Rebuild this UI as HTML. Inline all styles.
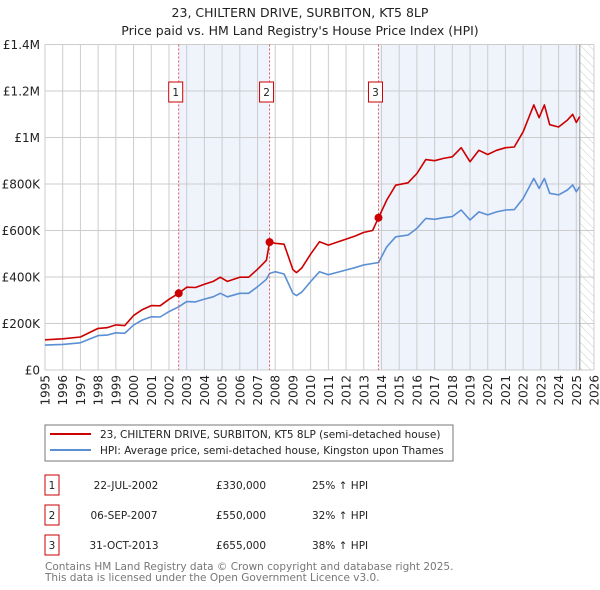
<!DOCTYPE html>
<html><head><meta charset="utf-8"><style>
body{margin:0;background:#fff;}
svg{display:block;font-family:"DejaVu Sans","Liberation Sans",sans-serif;}
</style></head><body>
<svg id="chart" width="600" height="590" viewBox="0 0 600 590">
<text x="300" y="17" text-anchor="middle" font-size="12.5" fill="#222">23, CHILTERN DRIVE, SURBITON, KT5 8LP</text>
<text x="300" y="35" text-anchor="middle" font-size="12.5" fill="#222">Price paid vs. HM Land Registry's House Price Index (HPI)</text>
<defs><pattern id="hatch" width="6" height="6" patternUnits="userSpaceOnUse" patternTransform="rotate(-45)"><line x1="0" y1="0" x2="0" y2="6" stroke="#ccc" stroke-width="1"/></pattern></defs>
<g id="bg"></g><g id="grid"></g><g id="series"></g><g id="marks"></g><g id="axes"></g>

<g>
<rect x="45" y="425" width="408" height="36" fill="#fff" stroke="#777"/>
<line x1="50" y1="434" x2="91" y2="434" stroke="#cc0000" stroke-width="2"/>
<text x="100" y="438" font-size="10.5" fill="#222">23, CHILTERN DRIVE, SURBITON, KT5 8LP (semi-detached house)</text>
<line x1="50" y1="450" x2="91" y2="450" stroke="#5b8fd4" stroke-width="2"/>
<text x="100" y="454" font-size="10.5" fill="#222">HPI: Average price, semi-detached house, Kingston upon Thames</text>
</g>
<g font-size="10.5" fill="#222">
<rect x="45" y="475" width="14" height="20" fill="#fff" stroke="#cc0000"/><text x="52" y="489" text-anchor="middle">1</text>
<text x="126" y="489" text-anchor="middle">22-JUL-2002</text><text x="241" y="489" text-anchor="middle">£330,000</text><text x="312" y="489">25% ↑ HPI</text>
<rect x="45" y="505" width="14" height="20" fill="#fff" stroke="#cc0000"/><text x="52" y="519" text-anchor="middle">2</text>
<text x="124" y="519" text-anchor="middle">06-SEP-2007</text><text x="241" y="519" text-anchor="middle">£550,000</text><text x="312" y="519">32% ↑ HPI</text>
<rect x="45" y="535" width="14" height="20" fill="#fff" stroke="#cc0000"/><text x="52" y="549" text-anchor="middle">3</text>
<text x="124" y="549" text-anchor="middle">31-OCT-2013</text><text x="241" y="549" text-anchor="middle">£655,000</text><text x="312" y="549">38% ↑ HPI</text>
</g>
<text x="45" y="570" font-size="10.5" fill="#777">Contains HM Land Registry data © Crown copyright and database right 2025.</text>
<text x="45" y="581" font-size="10.5" fill="#777">This data is licensed under the Open Government Licence v3.0.</text>
</svg>
<script>
const years=[1995,1996,1997,1998,1998.5,1999,1999.5,2000,2000.5,2001,2001.5,2002,2002.55,2003,2003.5,2004,2004.5,2004.9,2005.3,2006,2006.5,2007,2007.5,2007.68,2008,2008.5,2009,2009.2,2009.5,2010,2010.5,2011,2011.5,2012,2012.5,2013,2013.5,2013.83,2014.3,2014.8,2015.5,2016,2016.5,2017,2017.5,2018,2018.5,2019,2019.5,2020,2020.5,2021,2021.5,2022,2022.6,2022.9,2023.2,2023.5,2024,2024.5,2024.8,2025,2025.2];
const hpiValues=[107,110,117,148,150,160,158,193,215,229,228,251,272,294,293,305,315,330,315,330,330,358,390,415,423,413,330,320,335,380,423,410,420,430,440,452,458,462,530,573,580,609,652,648,655,660,688,645,680,667,680,688,690,738,824,781,824,760,753,774,796,767,789];
const priceValues=[130,134,142,179,182,194,191,234,260,277,276,304,330,356,355,369,381,399,381,399,399,433,472,550,545,541,432,419,439,498,552,537,550,563,576,592,600,655,731,795,805,845,905,900,910,917,956,896,945,927,945,956,959,1025,1140,1085,1140,1055,1045,1075,1100,1065,1090];
const saleYears=[2002.55,2007.68,2013.83];
const salePrices=[330,550,655];
const saleLabels=['1','2','3'];
const yTicks=[0,200,400,600,800,1000,1200,1400];
const yTickLabels=['£0','£200K','£400K','£600K','£800K','£1M','£1.2M','£1.4M'];
const xTicks=[1995,1996,1997,1998,1999,2000,2001,2002,2003,2004,2005,2006,2007,2008,2009,2010,2011,2012,2013,2014,2015,2016,2017,2018,2019,2020,2021,2022,2023,2024,2025,2026];
const dataEnd=2025.2;

const X0=45,X1=594,Y0=370,Y1=44.5,T0=1995,T1=2026,VMAX=1400;
const xs=t=>X0+(t-T0)/(T1-T0)*(X1-X0);
const ys=v=>Y0-v/VMAX*(Y0-Y1);
const NS='http://www.w3.org/2000/svg';
function mk(parent,tag,attrs){const e=document.createElementNS(NS,tag);for(const k in attrs)e.setAttribute(k,attrs[k]);document.getElementById(parent).appendChild(e);return e;}

// shading
const sh1=mk('bg','rect',{x:xs(saleYears[0]),y:Y1,width:xs(saleYears[1])-xs(saleYears[0]),height:Y0-Y1,fill:'#eef3fc'});


const sh2=mk('bg','rect',{x:xs(saleYears[2]),y:Y1,width:xs(dataEnd)-xs(saleYears[2]),height:Y0-Y1,fill:'#eef3fc'});


const hz=mk('bg','rect',{x:xs(dataEnd),y:Y1,width:X1-xs(dataEnd),height:Y0-Y1,fill:'url(#hatch)'});



// grid
yTicks.forEach((v,i)=>{
 const g=mk('grid','line',{x1:X0,x2:X1,y1:ys(v),y2:ys(v),stroke:'#ccc','stroke-width':1});
 
 
 const t=mk('axes','text',{x:X0-5,y:ys(v)+4.5,'text-anchor':'end','font-size':12,fill:'#222'});
 t.textContent=yTickLabels[i];
 
 
});
xTicks.forEach(yr=>{
 const g=mk('grid','line',{x1:xs(yr),x2:xs(yr),y1:Y1,y2:Y0,stroke:'#ccc','stroke-width':1});
 
 
 const t=mk('axes','text',{x:0,y:0,'text-anchor':'end','font-size':12,fill:'#222',transform:`translate(${xs(yr)+4.5},${Y0+5}) rotate(-90)`});
 t.textContent=String(yr);
 
 
});
const el=mk('grid','line',{x1:xs(dataEnd),x2:xs(dataEnd),y1:Y1,y2:Y0,stroke:'#999','stroke-width':1});



// series
const pts=arr=>arr.map((v,i)=>xs(years[i]).toFixed(1)+','+ys(v).toFixed(1)).join(' ');
const hp=mk('series','polyline',{points:pts(hpiValues),fill:'none',stroke:'#5b8fd4','stroke-width':1.6,'stroke-linejoin':'round'});


const pp=mk('series','polyline',{points:pts(priceValues),fill:'none',stroke:'#cc0000','stroke-width':1.6,'stroke-linejoin':'round'});



// sale markers
saleYears.forEach((yr,i)=>{
 const x=xs(yr);
 const l=mk('marks','line',{x1:x,x2:x,y1:Y1,y2:Y0,stroke:'#e05555','stroke-width':1,'stroke-dasharray':'2,2'});
 
 
 const b=mk('marks','rect',{x:x-10,y:82,width:14,height:20,fill:'#fff',stroke:'#cc0000'});
 
 
 const t=mk('marks','text',{x:x-3,y:96,'text-anchor':'middle','font-size':10.5,fill:'#222'});
 t.textContent=saleLabels[i];
 
 
 const c=mk('marks','circle',{cx:x,cy:ys(salePrices[i]),r:4,fill:'#cc0000'});
 
 
});
</script>
</body></html>
